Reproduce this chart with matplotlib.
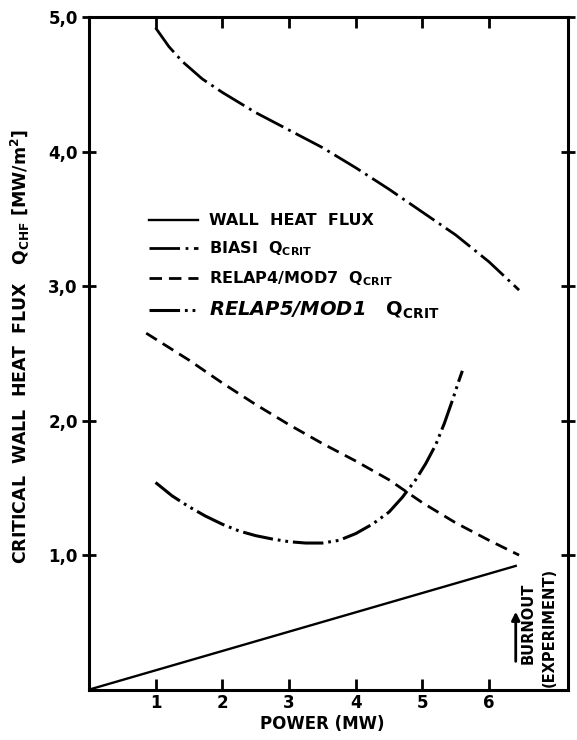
import matplotlib
matplotlib.use("Agg")
import matplotlib.pyplot as plt

# Data (power in MW, heat flux in MW/m2)
wall_power = [0.0, 6.40]
wall_flux = [0.0, 0.92]

biasi_power = [1.00, 1.20, 1.40, 1.70, 2.00, 2.50, 3.00, 3.50, 4.00, 4.50,
               5.00, 5.50, 6.00, 6.45]
biasi_flux = [4.92, 4.78, 4.67, 4.54, 4.44, 4.29, 4.16, 4.03, 3.88, 3.72,
              3.55, 3.38, 3.18, 2.97]

relap4_power = [0.86, 1.50, 2.00, 2.50, 3.00, 3.50, 4.00, 4.50, 5.00, 5.50,
                6.00, 6.45]
relap4_flux = [2.65, 2.45, 2.28, 2.12, 1.97, 1.83, 1.70, 1.56, 1.39, 1.24,
               1.11, 1.00]

relap5_power = [1.00, 1.25, 1.50, 1.75, 2.00, 2.25, 2.50, 2.75, 3.00, 3.25,
                3.50, 3.75, 4.00, 4.25, 4.50, 4.70, 4.90, 5.05, 5.20, 5.33,
                5.45, 5.55, 5.60]
relap5_flux = [1.54, 1.44, 1.36, 1.29, 1.23, 1.18, 1.145, 1.12, 1.10, 1.09,
               1.09, 1.11, 1.16, 1.23, 1.32, 1.43, 1.56, 1.68, 1.82, 1.98,
               2.15, 2.30, 2.37]

x_ticks = [1, 2, 3, 4, 5, 6]
y_ticks = [1.0, 2.0, 3.0, 4.0, 5.0]
y_ticklabels = ["1,0", "2,0", "3,0", "4,0", "5,0"]

labels = ["WALL  HEAT  FLUX",
          "BIASI  $Q_{CRIT}$",
          "RELAP4/MOD7  $Q_{CRIT}$",
          "RELAP5/MOD1   $Q_{CRIT}$"]

plt.rcParams["font.family"] = "DejaVu Sans"
plt.rcParams["font.weight"] = "bold"
plt.rcParams["mathtext.default"] = "bf"
plt.rcParams["lines.scale_dashes"] = False

fig = plt.figure(figsize=(5.77, 7.40), dpi=100)
ax = fig.add_axes([0.154, 0.068, 0.830, 0.909])

ax.plot(wall_power, wall_flux, color="black", lw=1.7, ls="-", label=labels[0])
ax.plot(biasi_power, biasi_flux, color="black", lw=2.0,
        ls=(0, (22, 4, 2, 4)), label=labels[1])
ax.plot(relap4_power, relap4_flux, color="black", lw=2.0,
        ls=(0, (9, 5)), label=labels[2])
ax.plot(relap5_power, relap5_flux, color="black", lw=2.2,
        ls=(0, (22, 3.5, 2, 3.5, 2, 3.5)), label=labels[3])

ax.set_xlim(0, 7.18)
ax.set_ylim(0, 5.0)

ax.set_xticks(x_ticks)
ax.set_xticklabels([str(t) for t in x_ticks], fontsize=12, fontweight="bold")
ax.set_yticks(y_ticks)
ax.set_yticklabels(y_ticklabels, fontsize=12, fontweight="bold")
ax.tick_params(axis="x", direction="in", length=8, width=2, top=True, pad=3)
ax.tick_params(axis="y", direction="inout", length=10, width=2, right=True,
               left=True, pad=3)

for sp in ax.spines.values():
    sp.set_linewidth(2.2)

ax.set_xlabel("POWER (MW)", fontsize=12, fontweight="bold")
ax.xaxis.set_label_coords(0.487, -0.037)
ax.set_ylabel(r"CRITICAL  WALL  HEAT  FLUX   $Q_{CHF}$ $\left[MW/m^2\right]$",
              fontsize=12.5, fontweight="bold")
ax.yaxis.set_label_coords(-0.118, 0.51)

leg = ax.legend(loc="upper left", bbox_to_anchor=(0.125, 0.708), frameon=False,
                fontsize=11.5, handlelength=3.1, handletextpad=0.7,
                labelspacing=0.7, borderpad=0, borderaxespad=0)
last = leg.get_texts()[3]
last.set_fontsize(14)
last.set_fontstyle("italic")

# burnout marker
ax.annotate("", xy=(6.40, 0.60), xytext=(6.40, 0.19),
            arrowprops=dict(arrowstyle="-|>", color="black", lw=2.0,
                            mutation_scale=12))
ax.text(6.58, 0.19, "BURNOUT", rotation=90, ha="center", va="bottom",
        fontsize=10.5, fontweight="bold")
ax.text(6.90, 0.02, "(EXPERIMENT)", rotation=90, ha="center", va="bottom",
        fontsize=10.5, fontweight="bold")

fig.savefig("out.png", dpi=100)
